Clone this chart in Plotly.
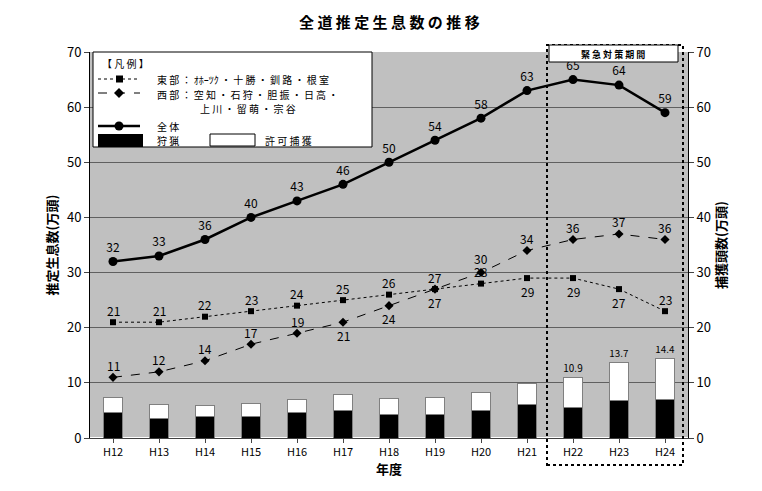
import plotly.graph_objects as go

years = ["H12","H13","H14","H15","H16","H17","H18","H19","H20","H21","H22","H23","H24"]
east = [21,21,22,23,24,25,26,27,28,29,29,27,23]
west = [11,12,14,17,19,21,24,27,30,34,36,37,36]
total = [32,33,36,40,43,46,50,54,58,63,65,64,59]
hunt = [4.6,3.6,3.9,3.9,4.6,5.0,4.3,4.3,5.0,6.0,5.5,6.8,7.0]
catch_total = [7.3,6.0,5.9,6.2,7.0,7.9,7.1,7.3,8.3,9.8,10.9,13.7,14.4]
permit = [round(t-h,1) for t,h in zip(catch_total,hunt)]
east_shift = [12]*9 + [-13]*3 + [12]
west_shift = [12]*5 + [-13]*3 + [14] + [12]*4
bar_labels = [""]*10 + ["10.9","13.7","14.4"]

F = "Noto Sans CJK JP"
x = list(range(len(years)))
fig = go.Figure()
fig.add_bar(x=x, y=hunt, marker=dict(color="black", line=dict(color="#808080", width=1)), width=0.42, yaxis="y2")
fig.add_bar(x=x, y=permit, marker=dict(color="white", line=dict(color="#808080", width=1)), width=0.42, yaxis="y2",
            text=bar_labels, textposition="outside", textfont=dict(size=12, color="black"), cliponaxis=False)
fig.add_scatter(x=x, y=east, mode="lines+markers", line=dict(color="black", width=1, dash="dot"),
                marker=dict(symbol="square", size=6, color="black"))
fig.add_scatter(x=x, y=west, mode="lines+markers", line=dict(color="black", width=1, dash="dash"),
                marker=dict(symbol="diamond", size=7, color="black"))
fig.add_scatter(x=x, y=total, mode="lines+markers+text", line=dict(color="black", width=2.5),
                marker=dict(symbol="circle", size=9, color="black"), text=total, textposition="top center",
                textfont=dict(size=12, color="black"))

ann = []
for xi, v, s in zip(x, east, east_shift):
    ann.append(dict(x=xi, y=v, text=str(v), showarrow=False, yshift=s, font=dict(size=12, color="black")))
for xi, v, s in zip(x, west, west_shift):
    ann.append(dict(x=xi, y=v, text=str(v), showarrow=False, yshift=s, font=dict(size=12, color="black")))

def px(p): return (p-90)/598
def py(p): return (438-p)/386
shapes = []
shapes.append(dict(type="rect", xref="paper", yref="paper", x0=px(93), x1=px(372), y0=py(147), y1=py(52),
                   fillcolor="white", line=dict(color="black", width=1)))
def seg(x0,x1,yy,dash,w):
    shapes.append(dict(type="line", xref="paper", yref="paper", x0=px(x0), x1=px(x1), y0=py(yy), y1=py(yy),
                       line=dict(color="black", width=w, dash=dash)))
seg(98,140,79,"dot",1); seg(98,140,93,"dash",1); seg(98,140,126,"solid",2.5)
shapes.append(dict(type="rect", xref="paper", yref="paper", x0=px(116), x1=px(123), y0=py(82.5), y1=py(75.5), fillcolor="black", line=dict(width=0)))
shapes.append(dict(type="path", xref="paper", yref="paper",
                   path=f"M {px(114)},{py(93)} L {px(119)},{py(88)} L {px(124)},{py(93)} L {px(119)},{py(98)} Z",
                   fillcolor="black", line=dict(width=0)))
shapes.append(dict(type="circle", xref="paper", yref="paper", x0=px(114.5), x1=px(123.5), y0=py(130.5), y1=py(121.5), fillcolor="black", line=dict(width=0)))
shapes.append(dict(type="rect", xref="paper", yref="paper", x0=px(98), x1=px(143), y0=py(147), y1=py(134), fillcolor="black", line=dict(width=0)))
shapes.append(dict(type="rect", xref="paper", yref="paper", x0=px(210), x1=px(255), y0=py(146), y1=py(134), fillcolor="white", line=dict(color="black", width=1)))
def t(xp,yp,s,size=11,anchor="left",color="black",**kw):
    ann.append(dict(xref="paper", yref="paper", x=px(xp), y=py(yp), text=s, showarrow=False, xanchor=anchor,
                    yanchor="middle", font=dict(size=size, color=color, family=F), **kw))
t(100,63,"【 凡 例 】",10)
t(155,79,"東 部 ： ｵﾎｰﾂｸ ・ 十 勝 ・ 釧 路 ・ 根 室",10)
t(155,94,"西 部 ： 空 知 ・ 石 狩 ・ 胆 振 ・ 日 高 ・",10)
t(198,109,"上 川 ・ 留 萌 ・ 宗 谷",10)
t(155,126,"全 体",10); t(155,140,"狩 猟",10); t(263,140,"許 可 捕 獲",10)
shapes.append(dict(type="rect", xref="paper", yref="paper", x0=px(547), x1=px(683), y0=py(465), y1=py(45),
                   line=dict(color="black", width=2, dash="dot")))
shapes.append(dict(type="rect", xref="paper", yref="paper", x0=px(549), x1=px(678), y0=py(62), y1=py(45),
                   fillcolor="white", line=dict(color="black", width=1)))
t(613,54,"<b>緊 急 対 策 期 間</b>",9,"center")
ann.append(dict(xref="paper", yref="paper", x=0.5, y=py(22), text="<b>全 道 推 定 生 息 数 の 推 移</b>", showarrow=False,
                font=dict(size=15, family=F, color="black"), yanchor="middle"))

fig.update_layout(
    width=754, height=483, margin=dict(l=82, r=74, t=44, b=53),
    paper_bgcolor="white", plot_bgcolor="#c0c0c0", barmode="stack", showlegend=False,
    font=dict(family=F, color="black", size=12),
    xaxis=dict(range=[-0.5,12.5], tickvals=x, ticktext=years, showgrid=False, linecolor="#404040", showline=True,
               ticks="outside", ticklen=4, tickfont=dict(size=11), title=dict(text="<b>年度</b>", font=dict(size=13), standoff=6)),
    yaxis=dict(range=[0,70], dtick=10, gridcolor="#606060", gridwidth=1, showline=True, linecolor="black", ticks="outside",
               tickfont=dict(size=13), title=dict(text="<b>推定生息数(万頭)</b>", font=dict(size=13), standoff=6), zeroline=False),
    yaxis2=dict(range=[0,70], dtick=10, overlaying="y", side="right", showgrid=False, showline=True, linecolor="black",
                ticks="outside", tickfont=dict(size=13), title=dict(text="<b>捕獲頭数(万頭)</b>", font=dict(size=13), standoff=6)),
    shapes=shapes, annotations=ann,
)
fig.write_html("out.html")
